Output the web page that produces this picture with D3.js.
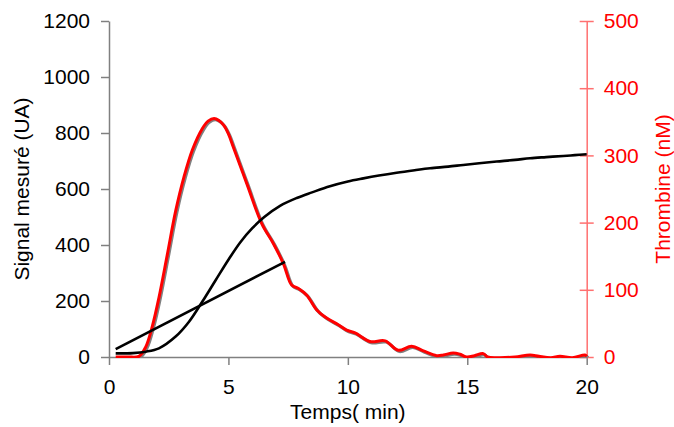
<!DOCTYPE html>
<html><head><meta charset="utf-8">
<script src="https://cdn.jsdelivr.net/npm/d3@7"></script>
<style>body{margin:0;background:#fff}svg{display:block}text{font-family:"Liberation Sans",Arial,sans-serif}</style>
</head><body>
<svg id="c" width="674" height="427"></svg>
<script>
// Signal mesuré (UA) - sigmoid curve
const signalTime = [0.28, 1.0, 1.54, 2.09, 2.79, 3.35, 3.91, 4.47, 5.02, 5.5, 6.0, 6.5, 7.16, 7.86, 8.5, 9.25, 10.0, 10.65, 11.3, 12.04, 12.8, 13.44, 14.2, 14.83, 15.5, 16.23, 17.0, 17.63, 18.3, 19.02, 19.5, 20.0];
const signalValue = [13, 14, 19, 31, 73, 126, 198, 275, 350, 410, 460, 500, 540, 568, 588, 610, 627, 638, 648, 658, 667, 674, 680, 686, 692, 698, 704, 710, 714, 718, 721, 724];
// Straight reference line
const lineTime = [0.28, 7.37];
const lineValue = [28, 340];
// Thrombine (nM)
const thrTime = [0.28, 0.8, 1.25, 1.54, 1.81, 2.09, 2.44, 2.79, 3.14, 3.49, 3.91, 4.15, 4.40, 4.6, 4.8, 5.0, 5.2, 5.77, 6.39, 6.88, 7.30, 7.65, 7.93, 8.28, 8.70, 9.11, 9.60, 9.95, 10.30, 10.93, 11.56, 12.11, 12.67, 13.16, 13.72, 14.0, 14.41, 14.7, 14.98, 15.3, 15.67, 15.85, 16.3, 17.0, 17.63, 18.0, 18.5, 18.88, 19.4, 19.93, 20.0];
const thrValue = [0, 0, 1, 15, 45, 88, 152, 217, 268, 308, 340, 351, 355, 352, 345, 332, 313, 258, 199, 169, 139, 107, 102, 92, 70, 58, 48, 40, 36, 23, 24, 10, 16, 9, 2, 3, 6, 4, 0, 2, 5, 0, -1, 0, 3, 1, -1, 1, -1, 3, 1];
const xTicks = [0, 5, 10, 15, 20];
const yLeftTicks = [0, 200, 400, 600, 800, 1000, 1200];
const yRightTicks = [0, 100, 200, 300, 400, 500];

const svg = d3.select("#c");
const L = 109, R = 586.7, T = 21, B = 357;
const x = d3.scaleLinear().domain([0, 20]).range([L, R]);
const yL = d3.scaleLinear().domain([0, 1200]).range([B, T]);
const yR = d3.scaleLinear().domain([0, 500]).range([B, T]);
const FS = 21;
const FF = "Liberation Sans, Arial, sans-serif";

// axes
const gx = svg.append("g").attr("transform", `translate(0,${B})`)
  .call(d3.axisBottom(x).tickValues(xTicks).tickFormat(d3.format("d")).tickSize(8).tickPadding(14).tickSizeOuter(0));
gx.select(".domain").attr("stroke", "#808080").attr("stroke-width", 1.5);
gx.selectAll(".tick line").attr("stroke", "#808080").attr("stroke-width", 1.5);
gx.selectAll("text").attr("font-size", FS).attr("fill", "#000").attr("font-family", FF);

const gl = svg.append("g").attr("transform", `translate(${L},0)`)
  .call(d3.axisLeft(yL).tickValues(yLeftTicks).tickFormat(d3.format("d")).tickSize(8).tickPadding(11).tickSizeOuter(0));
gl.select(".domain").attr("stroke", "#808080").attr("stroke-width", 1.5);
gl.selectAll(".tick line").attr("stroke", "#808080").attr("stroke-width", 1.5);
gl.selectAll("text").attr("font-size", FS).attr("fill", "#000").attr("font-family", FF);

const gr = svg.append("g").attr("transform", `translate(${R},0)`)
  .call(d3.axisRight(yR).tickValues(yRightTicks).tickFormat(d3.format("d")).tickSize(7).tickPadding(10).tickSizeOuter(0));
gr.select(".domain").attr("stroke", "#ff7070").attr("stroke-width", 1.5);
gr.selectAll(".tick line").attr("stroke", "#ff7070").attr("stroke-width", 1.5).attr("x1", -7);
gr.selectAll("text").attr("font-size", FS).attr("fill", "#ff0000").attr("font-family", FF);

// titles
svg.append("text").attr("transform", `translate(29,${(T+B)/2}) rotate(-90)`)
  .attr("text-anchor", "middle").attr("font-size", FS).attr("font-family", FF).attr("fill", "#000").text("Signal mesuré (UA)");
svg.append("text").attr("transform", `translate(670,${(T+B)/2}) rotate(-90)`)
  .attr("text-anchor", "middle").attr("font-size", FS).attr("font-family", FF).attr("fill", "#ff0000").text("Thrombine (nM)");
svg.append("text").attr("x", (L+R)/2).attr("y", 419)
  .attr("text-anchor", "middle").attr("font-size", FS).attr("font-family", FF).attr("fill", "#000").text("Temps( min)");

// clip
svg.append("clipPath").attr("id", "clip").append("rect")
  .attr("x", L).attr("y", 0).attr("width", R - L + 3).attr("height", B + 1);

const plot = svg.append("g").attr("clip-path", "url(#clip)");

const thr = thrTime.map((t, i) => [t, thrValue[i]]);
const lineThr = d3.line().x(d => x(d[0])).y(d => yR(d[1])).curve(d3.curveCatmullRom.alpha(0.5));
plot.append("path").datum(thr).attr("d", lineThr).attr("fill", "none")
  .attr("stroke", "#808080").attr("stroke-width", 3.2).attr("transform", "translate(1.2,1.2)");
plot.append("path").datum(thr).attr("d", lineThr).attr("fill", "none")
  .attr("stroke", "#ff0000").attr("stroke-width", 3);

const sig = signalTime.map((t, i) => [t, signalValue[i]]);
const lineL = d3.line().x(d => x(d[0])).y(d => yL(d[1])).curve(d3.curveCatmullRom.alpha(0.5));
svg.append("path").datum(sig).attr("d", lineL).attr("fill", "none")
  .attr("stroke", "#000").attr("stroke-width", 2.6);
const st = lineTime.map((t, i) => [t, lineValue[i]]);
svg.append("path").datum(st).attr("d", d3.line().x(d => x(d[0])).y(d => yL(d[1]))).attr("fill", "none")
  .attr("stroke", "#000").attr("stroke-width", 2.6);
</script>
</body></html>
